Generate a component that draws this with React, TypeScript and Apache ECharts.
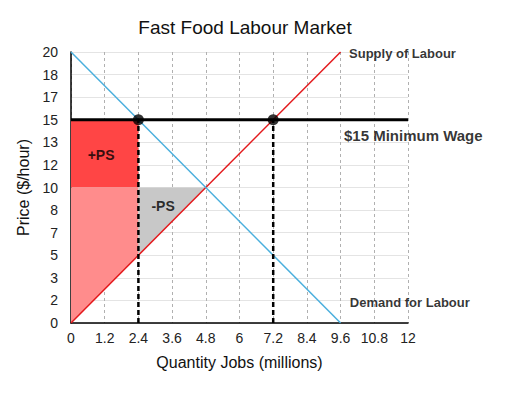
import React, { useEffect, useRef } from "react";
import * as echarts from "echarts";

const xTicks = [0, 1.2, 2.4, 3.6, 4.8, 6, 7.2, 8.4, 9.6, 10.8, 12];
const supply = [[0, 0], [9.6, 20]];
const demand = [[0, 20], [9.6, 0]];
const minWage = [[0, 15], [12, 15]];
const dashA = [[2.4, 0], [2.4, 15]];
const dashB = [[7.2, 0], [7.2, 15]];
const dots = [[2.4, 15], [7.2, 15]];
const plusPS = [[0, 10], [2.4, 10], [2.4, 15], [0, 15]];
const keptPS = [[0, 0], [2.4, 5], [2.4, 10], [0, 10]];
const lostPS = [[2.4, 5], [4.8, 10], [2.4, 10]];
const labels = [
  { name: "+PS", pos: [1.07, 12.4], size: 14, align: "center" },
  { name: "-PS", pos: [3.28, 8.63], size: 14, align: "center" },
  { name: "Supply of Labour", pos: [9.9, 19.9], size: 13, align: "left" },
  { name: "$15 Minimum Wage", pos: [9.72, 13.87], size: 15, align: "left" },
  { name: "Demand for Labour", pos: [9.93, 1.48], size: 13, align: "left" },
];

const FONT = "'Liberation Sans', Arial, Helvetica, sans-serif";

function poly(points: number[][], color: string, z: number) {
  return {
    type: "custom",
    z,
    silent: true,
    data: [0],
    renderItem: (_p: any, api: any) => ({
      type: "polygon",
      shape: { points: points.map((pt) => api.coord(pt)) },
      style: { fill: color },
    }),
  };
}

function line(data: number[][], color: string, width: number, z: number, dashed = false) {
  return {
    type: "line",
    data,
    z,
    symbol: "none",
    silent: true,
    lineStyle: { color, width, type: dashed ? [5, 3] : "solid" },
  };
}

export default function App() {
  const ref = useRef<HTMLDivElement>(null);
  useEffect(() => {
    document.body.style.margin = "0";
    const chart = echarts.init(ref.current!, null, { renderer: "svg" });
    chart.setOption({
      animation: false,
      backgroundColor: "#fff",
      textStyle: { fontFamily: FONT },
      title: {
        text: "Fast Food Labour Market",
        left: 240,
        textAlign: "center",
        top: 13,
        textStyle: { fontSize: 19, fontWeight: "normal", color: "#111", fontFamily: FONT },
      },
      grid: { left: 71, right: 113, top: 52, bottom: 73 },
      xAxis: {
        type: "value",
        min: 0,
        max: 12,
        interval: 1.2,
        name: "Quantity Jobs (millions)",
        nameLocation: "middle",
        nameGap: 31,
        nameTextStyle: { fontSize: 16, color: "#111", fontFamily: FONT },
        axisLine: { lineStyle: { color: "#000", width: 1.5 } },
        axisTick: { show: false },
        axisLabel: {
          margin: 8,
          fontSize: 14,
          color: "#222",
          fontFamily: FONT,
          formatter: (v: number) => String(+v.toFixed(1)),
        },
        splitLine: { show: true, lineStyle: { color: "#b0b0b0", type: [3, 3], width: 1 } },
      },
      yAxis: {
        type: "value",
        min: 0,
        max: 20,
        interval: 20 / 12,
        name: "Price ($/hour)",
        nameLocation: "middle",
        nameGap: 36,
        nameTextStyle: { fontSize: 16, color: "#111", fontFamily: FONT },
        axisLine: { show: true, lineStyle: { color: "#000", width: 1.5 } },
        axisTick: { show: false },
        axisLabel: {
          margin: 13,
          fontSize: 14,
          color: "#222",
          fontFamily: FONT,
          formatter: (v: number) => String(Math.round(v)),
        },
        splitLine: { show: true, lineStyle: { color: "#e4e4e4", width: 1 } },
      },
      series: [
        poly(plusPS, "#ff4545", 1),
        poly(keptPS, "#ff8c8c", 1),
        poly(lostPS, "#c8c8c8", 1),
        line(supply, "#e3191c", 1.5, 3),
        line(demand, "#4aafdd", 1.5, 3),
        line(dashA, "#000", 2.5, 4, true),
        line(dashB, "#000", 2.5, 4, true),
        line(minWage, "#000", 3, 5),
        {
          type: "scatter",
          data: dots,
          z: 6,
          symbolSize: 11,
          itemStyle: { color: "#000" },
          silent: true,
        },
        {
          type: "scatter",
          z: 7,
          symbolSize: 0,
          silent: true,
          data: labels.map((l) => ({
            value: l.pos,
            label: {
              show: true,
              position: "inside",
              formatter: l.name,
              fontSize: l.size,
              fontWeight: "bold",
              color: "#000",
              fontFamily: FONT,
              align: l.align,
              verticalAlign: "middle",
            },
          })),
        },
      ],
    });
    return () => chart.dispose();
  }, []);
  return <div ref={ref} style={{ width: 521, height: 396 }} />;
}
